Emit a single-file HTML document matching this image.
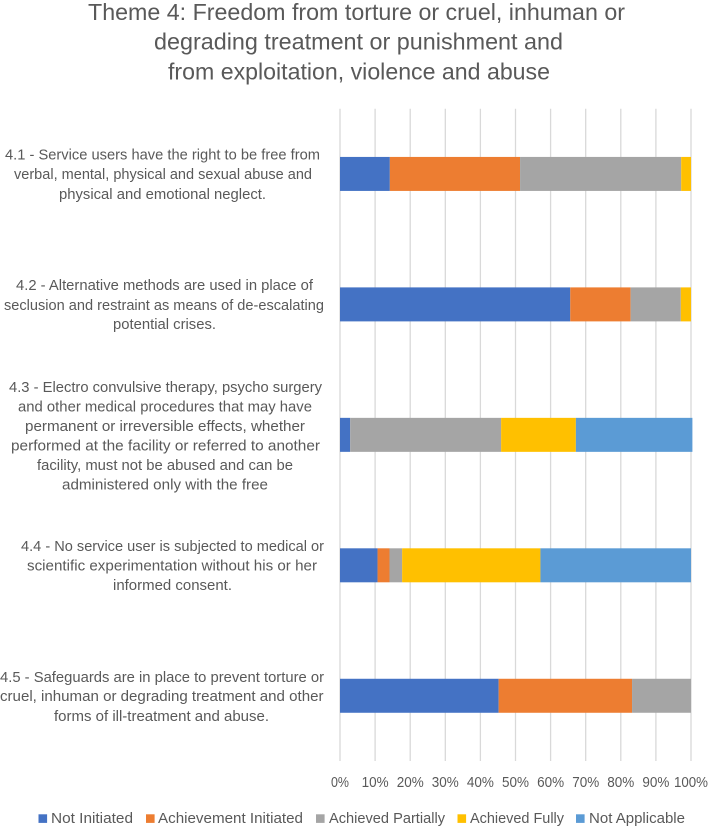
<!DOCTYPE html>
<html lang="en">
<head>
<meta charset="utf-8">
<title>Theme 4 chart</title>
<style>
html,body{margin:0;padding:0;background:#fff;}
svg{display:block;}
text{font-family:"Liberation Sans",sans-serif;fill:#595959;}
.lab{font-size:14.5px;text-anchor:start;}
.tt{font-size:23px;}
</style>
</head>
<body>
<svg id="chart" width="712" height="826" viewBox="0 0 712 826" xmlns="http://www.w3.org/2000/svg">
<g>
<text class="tt" x="88" y="20" textLength="537" lengthAdjust="spacingAndGlyphs">Theme 4: Freedom from torture or cruel, inhuman or</text>
<text class="tt" x="154" y="49.5" textLength="409" lengthAdjust="spacingAndGlyphs">degrading treatment or punishment and</text>
<text class="tt" x="168" y="79.5" textLength="382" lengthAdjust="spacingAndGlyphs">from exploitation, violence and abuse</text>
</g>
<g id="grid"></g>
<g id="bars"></g>
<g id="ticks"></g>
<g>
<text class="lab" x="5" y="159.5" textLength="315" lengthAdjust="spacingAndGlyphs">4.1 - Service users have the right to be free from</text>
<text class="lab" x="14" y="179" textLength="298" lengthAdjust="spacingAndGlyphs">verbal, mental, physical and sexual abuse and</text>
<text class="lab" x="59" y="199" textLength="207" lengthAdjust="spacingAndGlyphs">physical and emotional neglect.</text>
</g>
<g>
<text class="lab" x="16" y="290" textLength="297" lengthAdjust="spacingAndGlyphs">4.2 - Alternative methods are used in place of</text>
<text class="lab" x="4" y="310" textLength="320" lengthAdjust="spacingAndGlyphs">seclusion and restraint as means of de-escalating</text>
<text class="lab" x="113" y="329" textLength="103" lengthAdjust="spacingAndGlyphs">potential crises.</text>
</g>
<g>
<text class="lab" x="9" y="392" textLength="313" lengthAdjust="spacingAndGlyphs">4.3 - Electro convulsive therapy, psycho surgery</text>
<text class="lab" x="18" y="411.5" textLength="294" lengthAdjust="spacingAndGlyphs">and other medical procedures that may have</text>
<text class="lab" x="25" y="431" textLength="280" lengthAdjust="spacingAndGlyphs">permanent or irreversible effects, whether</text>
<text class="lab" x="11" y="450.5" textLength="309" lengthAdjust="spacingAndGlyphs">performed at the facility or referred to another</text>
<text class="lab" x="37" y="470" textLength="256" lengthAdjust="spacingAndGlyphs">facility, must not be abused and can be</text>
<text class="lab" x="62" y="489.5" textLength="206" lengthAdjust="spacingAndGlyphs">administered only with the free</text>
</g>
<g>
<text class="lab" x="21" y="551" textLength="303" lengthAdjust="spacingAndGlyphs">4.4 - No service user is subjected to medical or</text>
<text class="lab" x="27" y="570.5" textLength="290" lengthAdjust="spacingAndGlyphs">scientific experimentation without his or her</text>
<text class="lab" x="113" y="590" textLength="119" lengthAdjust="spacingAndGlyphs">informed consent.</text>
</g>
<g>
<text class="lab" x="0" y="682" textLength="324" lengthAdjust="spacingAndGlyphs">4.5 - Safeguards are in place to prevent torture or</text>
<text class="lab" x="0" y="701" textLength="323.5" lengthAdjust="spacingAndGlyphs">cruel, inhuman or degrading treatment and other</text>
<text class="lab" x="54" y="721" textLength="215" lengthAdjust="spacingAndGlyphs">forms of ill-treatment and abuse.</text>
</g>
<g>
<g>
<rect x="38.5" y="814.3" width="8.6" height="8.6" fill="#4472c4"/>
<text class="lab" x="51" y="823" textLength="82" lengthAdjust="spacingAndGlyphs">Not Initiated</text>
</g>
<g>
<rect x="146" y="814.3" width="8.6" height="8.6" fill="#ed7d31"/>
<text class="lab" x="158" y="823" textLength="145" lengthAdjust="spacingAndGlyphs">Achievement Initiated</text>
</g>
<g>
<rect x="316" y="814.3" width="8.6" height="8.6" fill="#a5a5a5"/>
<text class="lab" x="329" y="823" textLength="116" lengthAdjust="spacingAndGlyphs">Achieved Partially</text>
</g>
<g>
<rect x="457.5" y="814.3" width="8.6" height="8.6" fill="#ffc000"/>
<text class="lab" x="470" y="823" textLength="94" lengthAdjust="spacingAndGlyphs">Achieved Fully</text>
</g>
<g>
<rect x="576" y="814.3" width="8.6" height="8.6" fill="#5b9bd5"/>
<text class="lab" x="589" y="823" textLength="96" lengthAdjust="spacingAndGlyphs">Not Applicable</text>
</g>
</g>
</svg>
<script>
const categories = ["4.1", "4.2", "4.3", "4.4", "4.5"];
const notInitiated = [14.2, 65.6, 2.9, 10.7, 45.2];
const achievementInitiated = [37.1, 17.2, 0, 3.4, 38];
const achievedPartially = [45.9, 14.3, 43, 3.6, 16.8];
const achievedFully = [2.8, 2.9, 21.3, 39.4, 0];
const notApplicable = [0, 0, 33.2, 42.9, 0];
const tickValues = [0, 10, 20, 30, 40, 50, 60, 70, 80, 90, 100];

const svgNS = "http://www.w3.org/2000/svg";
const plotLeft = 340, plotWidth = 351, plotTop = 108.7, plotBottom = 761;
const bandHeight = (plotBottom - plotTop) / 5, barHeight = 34;
function xScale(v) { return plotLeft + v / 100 * plotWidth; }
function bandCenter(i) { return plotTop + bandHeight * (i + 0.5); }

const gridGroup = document.getElementById("grid");
const tickGroup = document.getElementById("ticks");
tickValues.forEach(function (t) {
  const line = document.createElementNS(svgNS, "line");
  
  
  line.setAttribute("x1", xScale(t));
  line.setAttribute("x2", xScale(t));
  line.setAttribute("y1", plotTop);
  line.setAttribute("y2", plotBottom);
  line.setAttribute("stroke", "#d9d9d9");
  line.setAttribute("stroke-width", "1.3");
  gridGroup.appendChild(line);
  const label = document.createElementNS(svgNS, "text");
  
  
  label.setAttribute("x", xScale(t));
  label.setAttribute("y", 787);
  label.setAttribute("text-anchor", "middle");
  label.setAttribute("font-size", "14.5");
  label.setAttribute("textLength", t === 100 ? 34 : (t === 0 ? 18 : 27));
  label.setAttribute("lengthAdjust", "spacingAndGlyphs");
  label.textContent = t + "%";
  tickGroup.appendChild(label);
});

const seriesList = [
  { key: "not-initiated", values: notInitiated, color: "#4472c4" },
  { key: "achievement-initiated", values: achievementInitiated, color: "#ed7d31" },
  { key: "achieved-partially", values: achievedPartially, color: "#a5a5a5" },
  { key: "achieved-fully", values: achievedFully, color: "#ffc000" },
  { key: "not-applicable", values: notApplicable, color: "#5b9bd5" }
];
const barGroup = document.getElementById("bars");
categories.forEach(function (c, i) {
  let cum = 0;
  seriesList.forEach(function (s) {
    const v = s.values[i];
    if (v > 0) {
      const r = document.createElementNS(svgNS, "rect");
      
      
      r.setAttribute("data-series", s.key);
      r.setAttribute("data-category", c);
      r.setAttribute("x", xScale(cum));
      r.setAttribute("y", bandCenter(i) - barHeight / 2);
      r.setAttribute("width", xScale(cum + v) - xScale(cum));
      r.setAttribute("height", barHeight);
      r.setAttribute("fill", s.color);
      barGroup.appendChild(r);
    }
    cum += v;
  });
});
</script>
</body>
</html>
